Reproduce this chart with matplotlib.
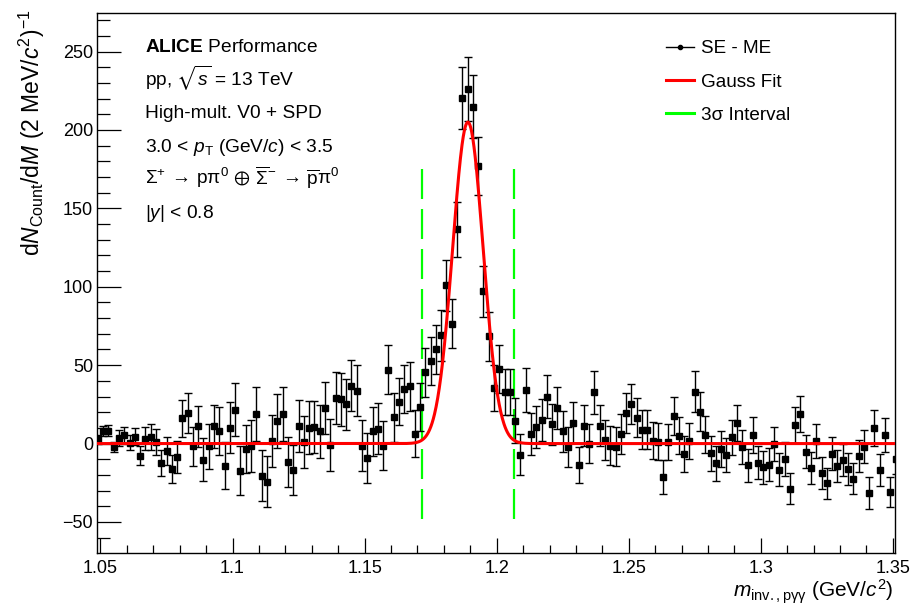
import numpy as np
import matplotlib
matplotlib.use("Agg")
import matplotlib.pyplot as plt
from matplotlib.lines import Line2D
from matplotlib.ticker import MultipleLocator, FuncFormatter

plt.rcParams['font.family'] = ['Liberation Sans', 'DejaVu Sans']
plt.rcParams['mathtext.fontset'] = 'custom'
plt.rcParams['mathtext.rm'] = 'Liberation Sans'
plt.rcParams['mathtext.it'] = 'Liberation Sans:italic'
plt.rcParams['mathtext.bf'] = 'Liberation Sans:bold'
plt.rcParams['mathtext.fallback'] = 'stixsans'

# bins of 2 MeV, first bin centre at 1.049 GeV/c^2
bin_first = 1.049
bin_width = 0.002

counts = [
    2.6, 7.9, 8.3, -2.3, 3.4, 5.3, 0.6, 4.5, -7.7, 3.2,
    4.0, 1.1, -12.3, -4.5, -16.2, -8.7, 16.0, 19.4, -1.7, 10.9,
    -10.4, -1.7, 10.9, 7.9, -14.0, 10.2, 21.7, -17.4, -3.4, -1.7,
    18.9, -20.4, -24.3, 1.5, 14.5, 18.9, -11.7, -16.6, 11.1, 1.1,
    10.2, 10.4, 7.9, 22.6, -0.9, 28.9, 28.3, 25.1, 37.0, 33.8,
    -1.3, -9.4, 7.7, 9.6, -1.3, 47.0, 16.8, 26.8, 34.9, 36.4,
    6.2, 23.2, 45.5, 52.6, 60.0, 69.0, 101.0, 76.4, 136.7, 220.5,
    226.0, 214.8, 176.9, 97.0, 68.3, 35.6, 47.7, 32.8, 32.8, 14.7,
    -7.2, 34.3, 6.2, 10.6, 15.3, 30.0, 12.3, 22.6, 7.9, -2.3,
    13.4, -13.6, 11.5, -0.2, 32.6, 11.5, 2.3, -1.3, -2.1, 6.2,
    19.6, 25.5, 16.4, 8.9, 8.9, 1.9, 1.3, -21.5, 0.9, 17.5,
    5.1, -6.6, 1.5, 33.2, 20.4, 5.7, -6.2, -12.6, -3.4, -7.2,
    4.0, 13.2, -2.3, -13.8, 5.5, -12.3, -15.1, -13.4, -0.2, -16.6,
    -9.6, -28.7, 11.7, 18.7, -5.1, -15.3, 1.7, -18.7, -25.3, -6.4,
    -14.0, -10.6, -16.2, -22.4, -7.9, -1.9, -31.7, 10.2, -16.8, 5.5,
    -30.9, -9.6,
]

errors = [
    3.0, 3.3, 3.5, 3.2, 5.0, 5.3, 4.7, 5.6, 6.0, 7.2,
    8.2, 8.2, 8.3, 9.0, 9.0, 10.2, 11.8, 12.7, 12.3, 13.3,
    13.7, 14.3, 13.6, 15.5, 15.0, 16.0, 16.8, 15.6, 15.5, 16.7,
    17.2, 16.4, 16.2, 16.7, 17.1, 17.0, 16.2, 15.9, 16.5, 16.5,
    16.8, 16.6, 16.9, 16.5, 16.4, 16.5, 16.8, 16.4, 16.2, 16.5,
    16.3, 16.0, 15.8, 16.0, 15.5, 15.7, 15.5, 15.2, 15.2, 15.4,
    15.0, 15.3, 15.6, 15.5, 15.6, 16.2, 16.3, 15.7, 17.5, 19.9,
    20.5, 20.0, 18.6, 16.5, 15.4, 14.6, 15.4, 14.8, 14.8, 14.2,
    13.0, 14.1, 13.5, 13.2, 13.4, 13.6, 13.2, 13.4, 13.0, 12.6,
    13.0, 11.7, 12.8, 12.4, 13.6, 12.8, 12.5, 12.2, 12.4, 12.6,
    12.6, 12.8, 12.4, 12.3, 12.6, 12.0, 11.8, 10.9, 11.5, 12.0,
    11.8, 11.5, 11.6, 12.9, 12.2, 11.8, 11.2, 11.0, 11.4, 11.0,
    11.3, 11.6, 11.0, 10.6, 11.4, 10.5, 10.6, 10.4, 11.0, 10.6,
    10.8, 9.8, 11.6, 11.4, 10.5, 10.2, 10.8, 10.1, 9.8, 10.3,
    10.2, 10.4, 10.0, 9.8, 10.3, 10.6, 10.1, 11.5, 10.0, 10.6,
    9.6, 10.0,
]

# gauss fit parameters
fit_amp = 205.0
fit_mean = 1.1891
fit_sigma = 0.00578

text_lines = [
    r'$\mathbf{ALICE}$ Performance',
    r'pp, $\sqrt{s}$ = 13 TeV',
    'High-mult. V0 + SPD',
    r'3.0 < $p_{\mathrm{T}}$ (GeV/$c$) < 3.5',
    r'$\Sigma^{+}\,\rightarrow\,\mathrm{p\pi}^{0}\,\oplus\,\overline{\Sigma}^{-}\,\rightarrow\,\overline{\mathrm{p}}\mathrm{\pi}^{0}$',
    r'|$y$| < 0.8',
]
legend_labels = ['SE - ME', 'Gauss Fit', '3σ Interval']

W, H = 911, 605


def fx(px):
    return px / W


def fy(py):
    return 1 - py / H


def main():
    x = bin_first + bin_width * np.arange(len(counts))

    fig = plt.figure(figsize=(W / 100, H / 100), dpi=100)
    ax = fig.add_axes([fx(97.3), fy(552.7), fx(895) - fx(97.3), fy(12.7) - fy(552.7)])

    ax.errorbar(x, counts, yerr=errors, fmt='s', color='black', ms=4.0,
                elinewidth=1.0, capsize=2.8, capthick=1.0, zorder=3)

    xf = np.linspace(1.0488, 1.3508, 2000)
    yf = fit_amp * np.exp(-0.5 * ((xf - fit_mean) / fit_sigma) ** 2)
    ax.plot(xf, yf, color='#ff0000', lw=2.2, zorder=4)

    for xl in [fit_mean - 3 * fit_sigma, fit_mean + 3 * fit_sigma]:
        ax.plot([xl, xl], [175, -50], color='#00ff00', lw=1.6,
                dashes=(13.5, 4.5), zorder=2)

    ax.set_xlim(1.0488, 1.3508)
    ax.set_ylim(-69.6, 274.8)

    ax.xaxis.set_major_locator(MultipleLocator(0.05))
    ax.xaxis.set_minor_locator(MultipleLocator(0.01))
    ax.yaxis.set_major_locator(MultipleLocator(50))
    ax.yaxis.set_minor_locator(MultipleLocator(10))
    ax.xaxis.set_major_formatter(FuncFormatter(lambda v, p: '%g' % round(v, 3)))

    ax.tick_params(which='both', direction='in', top=False, right=False,
                   width=0.9, labelsize=13)
    ax.tick_params(axis='x', which='major', length=11, pad=5)
    ax.tick_params(axis='x', which='minor', length=5.5)
    ax.tick_params(axis='y', which='major', length=17.5, pad=3)
    ax.tick_params(axis='y', which='minor', length=9)
    for s in ax.spines.values():
        s.set_linewidth(1.0)

    fig.text(fx(39.5), fy(9), r'd$N_{\mathrm{Count}}$/d$M$ (2 MeV/$c^{2}$)$^{-1}$',
             rotation=90, rotation_mode='anchor', ha='right', va='baseline', fontsize=16.5)
    fig.text(fx(893), fy(597), r'$m_{\mathrm{inv.,p\gamma\gamma}}$ (GeV/$c^{2}$)',
             ha='right', va='baseline', fontsize=15)

    for k, t in enumerate(text_lines):
        fig.text(fx(145), fy(51.7 + 33.3 * k), t, fontsize=13.8, va='baseline')

    styles = [dict(color='black', lw=1.0, marker='o', ms=3, markevery=[1]),
              dict(color='#ff0000', lw=2.2),
              dict(color='#00ff00', lw=2.2)]
    for k, (lab, st) in enumerate(zip(legend_labels, styles)):
        yb = 53.3 + 33.3 * k
        ly = fy(yb - 6.5)
        fig.add_artist(Line2D([fx(666), fx(680), fx(694)], [ly, ly, ly], **st))
        fig.text(fx(701), fy(yb), lab, fontsize=13.6, va='baseline')

    fig.savefig('out.png', dpi=100)


if __name__ == "__main__":
    main()
